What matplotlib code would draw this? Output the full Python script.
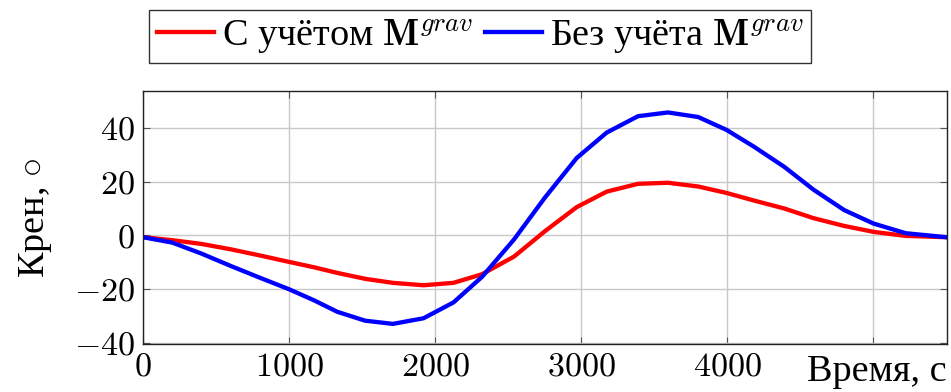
import matplotlib
matplotlib.use("Agg")
import matplotlib.pyplot as plt
from matplotlib.ticker import FuncFormatter

plt.rcParams['font.family'] = ['Liberation Serif', 'DejaVu Serif']
plt.rcParams['mathtext.fontset'] = 'cm'

# время, с
t = [0, 200, 400, 600, 800, 1000, 1170, 1330, 1520, 1710, 1920, 2125, 2320,
     2540, 2750, 2968, 3174, 3388, 3593, 3800, 3994, 4180, 4390, 4590, 4800,
     5000, 5220, 5500]
# крен с учётом M^grav
roll_grav = [-0.7, -1.8, -3.2, -5.2, -7.5, -9.9, -11.9, -14.0, -16.2, -17.7,
             -18.6, -17.7, -14.5, -7.9, 1.5, 10.5, 16.3, 19.2, 19.6, 18.2,
             15.8, 13.0, 10.0, 6.4, 3.5, 1.3, -0.2, -0.7]
# крен без учёта M^grav
roll_nograv = [-0.7, -2.7, -6.8, -11.4, -15.8, -20.1, -24.2, -28.5, -31.8,
               -33.0, -30.9, -25.0, -15.5, -1.5, 14.0, 28.8, 38.3, 44.4, 45.8,
               44.1, 39.3, 33.1, 25.5, 17.0, 9.4, 4.4, 0.8, -0.7]

xticks = [0, 1000, 2000, 3000, 4000, 5000]
yticks = [-40, -20, 0, 20, 40]

fs = 24.5      # числа
fs_txt = 27.5  # кириллица

fig = plt.figure(figsize=(9.51, 3.92), dpi=100)
ax = fig.add_axes([0.1504, 0.1224, 0.9953 - 0.1504, 0.7679 - 0.1224])

ax.plot(t, roll_grav, color='#ff0000', lw=3.1, label=r'С учётом $\mathbf{M}^{grav}$')
ax.plot(t, roll_nograv, color='#0000ff', lw=3.1, label=r'Без учёта $\mathbf{M}^{grav}$')

ax.set_xlim(0, 5500)
ax.set_ylim(-40.5, 53.8)
ax.set_xticks(xticks)
ax.set_yticks(yticks)

def fmt_x(v, pos):
    if v >= 5000:
        return ''
    return '$%d$' % v

ax.xaxis.set_major_formatter(FuncFormatter(fmt_x))
ax.yaxis.set_major_formatter(FuncFormatter(lambda v, pos: '$%d$' % v))

ax.tick_params(direction='in', length=5, width=0.8, color='#555555',
               labelsize=fs, top=True, right=True, pad=6)
ax.grid(True, color='#c8c8c8', lw=1.0)
ax.set_axisbelow(True)
for s in ax.spines.values():
    s.set_linewidth(1.0)
    s.set_color('#222222')

ax.set_ylabel(r'Крен, $\circ$', fontsize=fs_txt, labelpad=14)
ax.text(1.0, -0.04, 'Время, с', transform=ax.transAxes, ha='right', va='top',
        fontsize=fs_txt)

leg = fig.legend(loc='center', bbox_to_anchor=(480 / 951, 1 - 36.5 / 392),
                 ncol=2, fontsize=fs_txt, frameon=True, fancybox=False,
                 edgecolor='black', handlelength=1.5, handletextpad=0.2,
                 columnspacing=0.3, borderpad=0.2, borderaxespad=0)
leg.get_frame().set_linewidth(1.0)

fig.savefig('out.png', dpi=100)
